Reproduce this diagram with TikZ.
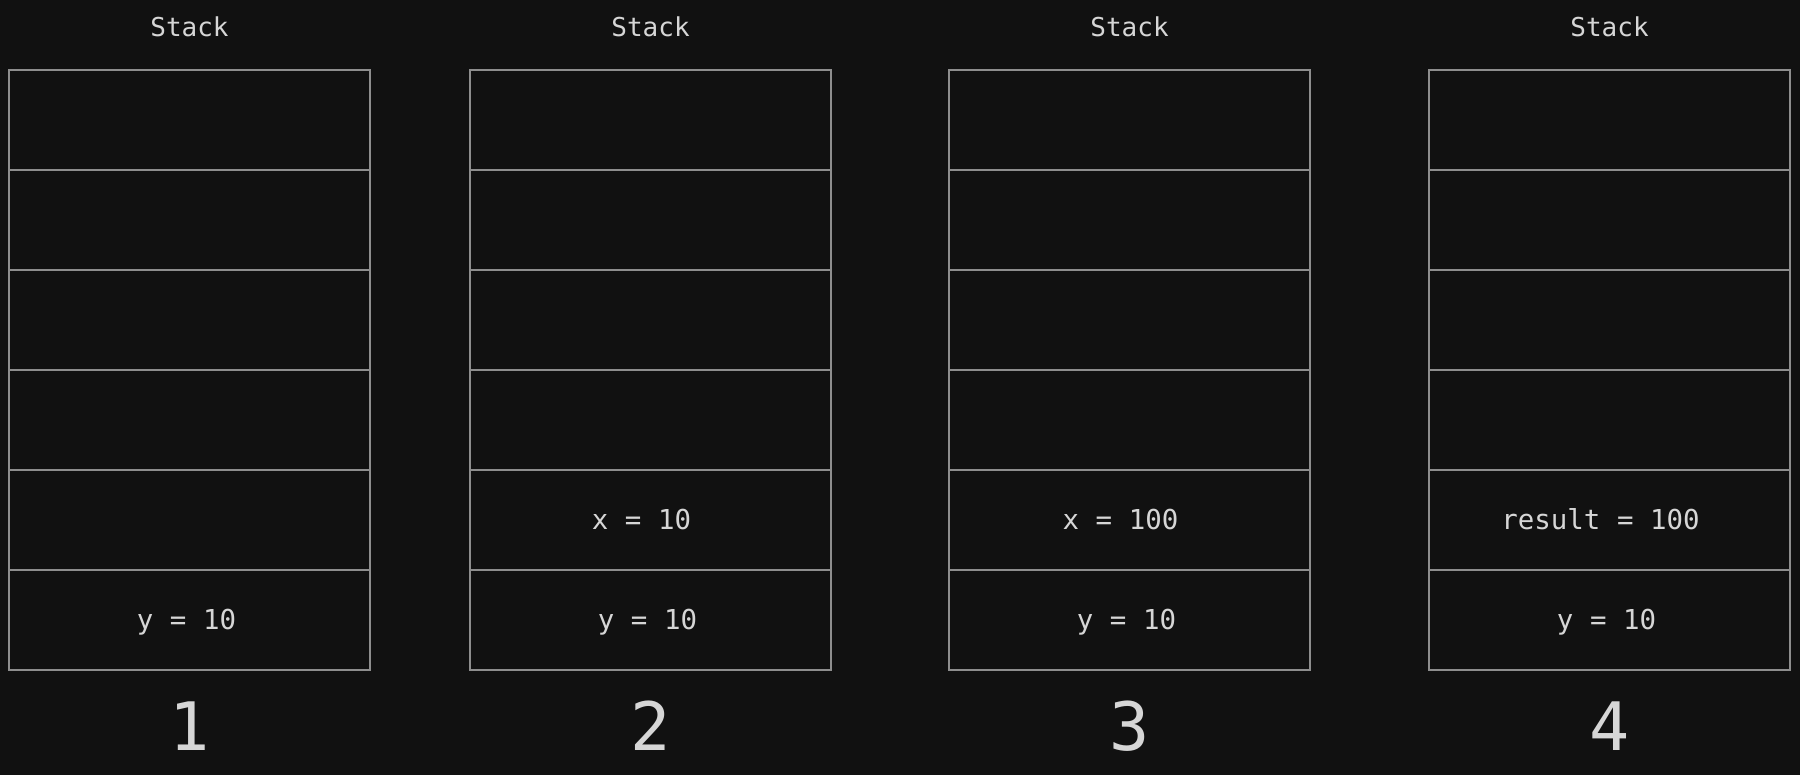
\documentclass[tikz,border=0pt]{standalone}
\usepackage{fontspec}
\setmonofont{DejaVu Sans Mono}
\definecolor{bgdark}{HTML}{111111}
\definecolor{cellline}{HTML}{8E8E8E}
\definecolor{labeltext}{HTML}{D6D6D6}
\tikzset{
  cell/.style={draw=cellline, line width=0.45pt, minimum width=3.61cm, minimum height=1cm, inner sep=0pt},
  title/.style={text=labeltext, font=\fontsize{7.4pt}{9pt}\ttfamily, inner sep=0pt},
  entry/.style={text=labeltext, font=\fontsize{7.8pt}{9pt}\ttfamily, anchor=base, yshift=-0.09cm, inner sep=0pt},
  stacknum/.style={text=labeltext, font=\fontsize{19pt}{22pt}\ttfamily, inner sep=0pt}
}
\begin{document}
\begin{tikzpicture}[x=0.01cm, y=-0.01cm]
    \fill[bgdark] (0,0) rectangle (1800,775);
    \useasboundingbox (0,0) rectangle (1800,775);

    % one stack per step
    \foreach \s/\cx in {1/189.5, 2/650.5, 3/1129.5, 4/1609.5} {
        \node[title] (title\s) at (\cx,27) {Stack};
        \foreach \r in {1,...,6}
            \node[cell] (cell\s\r) at (\cx,{20+100*\r}) {};
        \node[stacknum] (num\s) at (\cx,726) {\s};
    }

    % contents
    \node[entry, xshift=-0.03cm] (y1) at (cell16.center) {y = 10};
    \node[entry, xshift=-0.09cm] (x2) at (cell25.center) {x = 10};
    \node[entry, xshift=-0.03cm] (y2) at (cell26.center) {y = 10};
    \node[entry, xshift=-0.09cm] (x3) at (cell35.center) {x = 100};
    \node[entry, xshift=-0.03cm] (y3) at (cell36.center) {y = 10};
    \node[entry, xshift=-0.09cm] (res4) at (cell45.center) {result = 100};
    \node[entry, xshift=-0.03cm] (y4) at (cell46.center) {y = 10};
\end{tikzpicture}
\end{document}
